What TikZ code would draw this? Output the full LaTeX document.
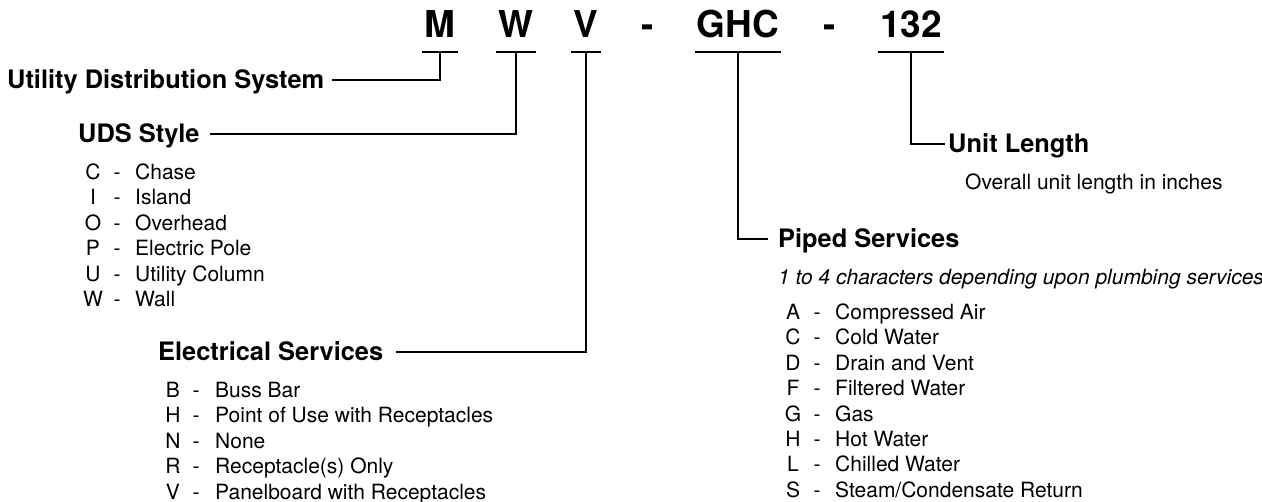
\documentclass[tikz,border=0pt]{standalone}
\usepackage{fontspec}
\setmainfont{TeX Gyre Heros}
\usetikzlibrary{positioning}
\tikzset{
  code/.style={font=\fontsize{37}{40}\selectfont\bfseries, inner xsep=2pt, inner ysep=14pt, text depth=0pt, anchor=base},
  head/.style={font=\fontsize{25.4}{30}\selectfont\bfseries, inner sep=0pt, text height=18pt, text depth=0pt, anchor=base west},
  item/.style={font=\fontsize{21}{25}\selectfont, inner sep=0pt, anchor=base},
  lead/.style={line width=1.5pt},
}

\begin{document}
\begin{tikzpicture}[x=1pt,y=-1pt]
\useasboundingbox (0,0) rectangle (1262,502);
% Model code
\node[code] (cM) at (440,38) {M};
\node[code] (cW) at (516,38) {W};
\node[code] (cV) at (586,38) {V};
\node[code] (d1) at (648,38) {-};
\node[code] (cGHC) at (738,38) {GHC};
\node[code] (d2) at (830,38) {-};
\node[code] (c132) at (911,38) {132};
\foreach \n in {cM,cW,cV,cGHC,c132}
  \draw[lead] (\n.south west) -- (\n.south east);

% Headings
\node[head] (sysname) at (7,89) {Utility Distribution System};
\node[head] (stylename) at (78,143) {UDS Style};
\node[head] (elecname) at (158,361) {Electrical Services};
\node[head] (pipename) at (778,248) {Piped Services};
\node[head] (lenname) at (948,153) {Unit Length};
\node[item,anchor=base west,font=\fontsize{21}{25}\selectfont\itshape] (pipenote) at (778,284.5) {1 to 4 characters depending upon plumbing services};
\node[item,anchor=base west] (lennote) at (965,189.5) {Overall unit length in inches};

% Leaders
\draw[lead] (cM.south) |- ([xshift=8pt]sysname.east);
\draw[lead] (cW.south) |- ([xshift=10pt]stylename.east);
\draw[lead] (cV.south) |- ([xshift=13pt]elecname.east);
\draw[lead] (cGHC.south) |- ([xshift=-10pt]pipename.west);
\draw[lead] (c132.south) |- ([xshift=-3pt]lenname.west);

% UDS style
\foreach \k/\t [count=\i from 0] in {C/Chase,I/Island,O/Overhead,P/Electric Pole,U/Utility Column,W/Wall}{
  \node[item] (sk\i) at (93,179.5+25.4*\i) {\k};
  \node[item] (sd\i) at (117,179.5+25.4*\i) {-};
  \node[item,anchor=base west] (st\i) at (135,179.5+25.4*\i) {\t};
}
% Electrical services
\foreach \k/\t [count=\i from 0] in {B/Buss Bar,H/Point of Use with Receptacles,N/None,R/Receptacle(s) Only,V/Panelboard with Receptacles}{
  \node[item] (ek\i) at (173,397.5+25.5*\i) {\k};
  \node[item] (ed\i) at (196,397.5+25.5*\i) {-};
  \node[item,anchor=base west] (et\i) at (215,397.5+25.5*\i) {\t};
}
% Piped services
\foreach \k/\t [count=\i from 0] in {A/Compressed Air,C/Cold Water,D/Drain and Vent,F/Filtered Water,G/Gas,H/Hot Water,L/Chilled Water,S/Steam\slash Condensate Return}{
  \node[item] (pk\i) at (793,319.5+25.4*\i) {\k};
  \node[item] (pd\i) at (817,319.5+25.4*\i) {-};
  \node[item,anchor=base west] (pt\i) at (835,319.5+25.4*\i) {\t};
}
\end{tikzpicture}
\end{document}
